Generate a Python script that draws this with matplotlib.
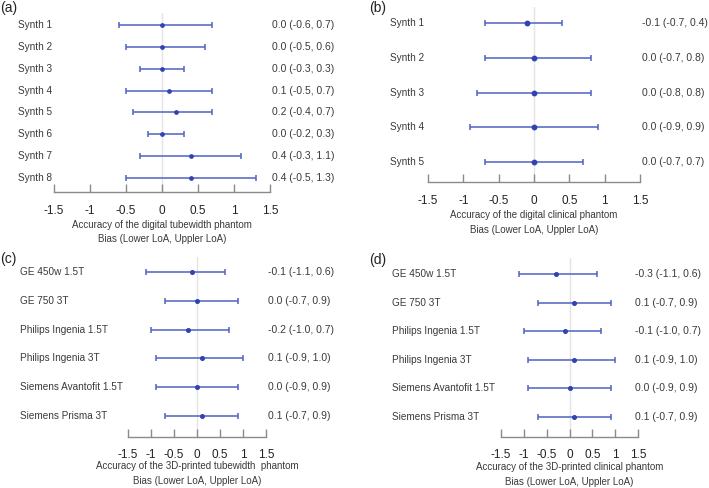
import matplotlib
matplotlib.use("Agg")
import matplotlib.pyplot as plt
import matplotlib.transforms as mtransforms

plt.rcParams['font.family'] = ['Liberation Sans', 'DejaVu Sans']

W, H = 709, 488

# ---- data ----
labels_a = ["Synth 1", "Synth 2", "Synth 3", "Synth 4", "Synth 5", "Synth 6", "Synth 7", "Synth 8"]
bias_a = [0.0, 0.0, 0.0, 0.1, 0.2, 0.0, 0.4, 0.4]
lower_a = [-0.6, -0.5, -0.3, -0.5, -0.4, -0.2, -0.3, -0.5]
upper_a = [0.7, 0.6, 0.3, 0.7, 0.7, 0.3, 1.1, 1.3]

labels_b = ["Synth 1", "Synth 2", "Synth 3", "Synth 4", "Synth 5"]
bias_b = [-0.1, 0.0, 0.0, 0.0, 0.0]
lower_b = [-0.7, -0.7, -0.8, -0.9, -0.7]
upper_b = [0.4, 0.8, 0.8, 0.9, 0.7]

scanners = ["GE 450w 1.5T", "GE 750 3T", "Philips Ingenia 1.5T", "Philips Ingenia 3T",
            "Siemens Avantofit 1.5T", "Siemens Prisma 3T"]
bias_c = [-0.1, 0.0, -0.2, 0.1, 0.0, 0.1]
lower_c = [-1.1, -0.7, -1.0, -0.9, -0.9, -0.7]
upper_c = [0.6, 0.9, 0.7, 1.0, 0.9, 0.9]

bias_d = [-0.3, 0.1, -0.1, 0.1, 0.0, 0.1]
lower_d = [-1.1, -0.7, -1.0, -0.9, -0.9, -0.7]
upper_d = [0.6, 0.9, 0.7, 1.0, 0.9, 0.9]

xticks = [-1.5, -1, -0.5, 0, 0.5, 1, 1.5]
xticklabels = ["-1.5", "-1", "-0.5", "0", "0.5", "1", "1.5"]

xlabel_a = "Accuracy of the digital tubewidth phantom"
xlabel_b = "Accuracy of the digital clinical phantom"
xlabel_c = "Accuracy of the 3D-printed tubewidth  phantom"
xlabel_d = "Accuracy of the 3D-printed clinical phantom"
xlabel2 = "Bias (Lower LoA, Uppler LoA)"

fig = plt.figure(figsize=(W / 100, H / 100), dpi=100)
fig.patch.set_facecolor("white")

LINE = "#5062c4"
DOT = "#3043b0"
TXT = "#3a3a3a"


def fx(px):
    return px / W


def fy(py):
    return 1 - py / H


def panel(tag, tag_xy, labels, bias, lower, upper, xlabel,
          x_lo, x_hi, top, axis_y, r0, rN, lab_x, right_x,
          xl1_y, xl2_y, ms):
    n = len(labels)
    ax = fig.add_axes([fx(x_lo), fy(axis_y), fx(x_hi) - fx(x_lo), fy(top) - fy(axis_y)])
    s = (rN - r0) / (n - 1)
    ax.set_ylim((axis_y - r0) / s, (top - r0) / s)
    ax.set_xlim(-1.5, 1.5)
    rows = list(range(n))
    ax.axvline(0, color="#e4e4e4", lw=1.0, zorder=0)
    xerr = [[b - l for b, l in zip(bias, lower)], [u - b for b, u in zip(bias, upper)]]
    ax.errorbar(bias, rows, xerr=xerr, fmt='o', color=LINE, ecolor=LINE,
                elinewidth=1.1, capsize=1.9, capthick=1.1, ms=ms,
                mfc=DOT, mec=DOT, clip_on=False)
    for side in ["top", "left", "right"]:
        ax.spines[side].set_visible(False)
    ax.spines["bottom"].set_color("#8a8a8a")
    ax.spines["bottom"].set_linewidth(1.0)
    ax.set_yticks([])
    ax.set_xticks(xticks)
    ax.set_xticklabels(xticklabels)
    ax.tick_params(axis="x", direction="in", length=6, width=1.0, color="#8a8a8a",
                   labelsize=8.5, pad=9, labelcolor="#222222")
    ax.patch.set_alpha(0)
    tr = mtransforms.blended_transform_factory(fig.transFigure, ax.transData)
    for i, (lab, b, l, u) in enumerate(zip(labels, bias, lower, upper)):
        ax.text(fx(lab_x), i, lab, transform=tr, ha="left", va="center",
                fontsize=7.2, color=TXT)
        ax.text(fx(right_x), i, f"{b:.1f} ({l:.1f}, {u:.1f})", transform=tr,
                ha="left", va="center", fontsize=7.5, color=TXT)
    cx = fx((x_lo + x_hi) / 2)
    fig.text(cx, fy(xl1_y), xlabel, ha="center", va="center", fontsize=7, color=TXT)
    fig.text(cx, fy(xl2_y), xlabel2, ha="center", va="center", fontsize=7, color=TXT)
    fig.text(fx(tag_xy[0]), fy(tag_xy[1]), tag, ha="left", va="center", fontsize=10,
             color="#222222")
    return ax


panel("(a)", (0, 8), labels_a, bias_a, lower_a, upper_a, xlabel_a,
      54, 270, 13, 192, 25, 178, 18, 272, 225, 239, 2.4)
panel("(b)", (369, 8), labels_b, bias_b, lower_b, upper_b, xlabel_b,
      428, 640, 7, 182, 23, 162, 390, 642, 215, 230, 3.2)
panel("(c)", (0, 259), scanners, bias_c, lower_c, upper_c, xlabel_c,
      128, 266, 257, 437, 272, 416, 20, 268, 466, 481, 2.6)
panel("(d)", (369, 260), scanners, bias_d, lower_d, upper_d, xlabel_d,
      501, 638, 258, 437, 274, 417, 392, 635, 467, 482, 2.6)

fig.savefig("out.png", dpi=100, facecolor="white")
